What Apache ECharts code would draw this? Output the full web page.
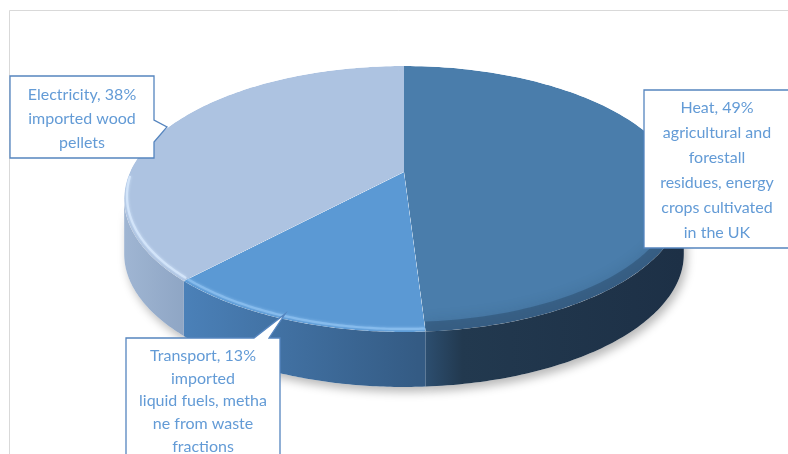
<!DOCTYPE html>
<html><head><meta charset="utf-8">
<script src="https://cdn.jsdelivr.net/npm/echarts@6/dist/echarts.min.js"></script>
<style>html,body{margin:0;padding:0;background:#fff}#c{width:788px;height:454px}</style>
</head><body><div id="c"></div>
<script>
// ---- data ----
const categories = ['Heat', 'Transport', 'Electricity'];
const shares = [49, 13, 38];
const descriptions = [
  'agricultural and\nforestall\nresidues, energy\ncrops cultivated\nin the UK',
  'imported\nliquid fuels, metha\nne from waste\nfractions',
  'imported wood\npellets'
];

// ---- styling / layout ----
const topColors = ['#4a7dab', '#5b99d4', '#adc3e1'];
const wallStops = [
  [[0, '#30557a'], [0.18, '#22394f'], [1, '#1d3046']],
  [[0, '#4b81b9'], [1, '#345b84']],
  [[0, '#a0b6d3'], [1, '#8ea5c4']]
];
const wallRange = [[414, 682], [180, 418], [122, 186]];
const rimColors = ['rgba(22,40,62,0.28)', '#86bbec', '#d2e4f9'];

const CX = 404, CY = 172, A = 274, B = 127.5, PP = 0.203, DEPTH = 55;
const TWO_PI = Math.PI * 2;
function P(phi) {
  const u = Math.sin(phi), v = -Math.cos(phi), w = 1 - PP * v;
  return [CX + A * u / w, CY + B * v / w];
}
const total = shares.reduce((a, b) => a + b, 0);
function angles(i, val) {
  let s = 0;
  for (let k = 0; k < i; k++) s += shares[k];
  return [s / total * TWO_PI, (s + val) / total * TWO_PI];
}
const VIS0 = Math.acos(-PP), VIS1 = TWO_PI - Math.acos(-PP);

function arc(a0, a1, n) {
  const pts = [];
  for (let k = 0; k <= n; k++) pts.push(P(a0 + (a1 - a0) * k / n));
  return pts;
}

function renderWall(params, api) {
  const i = params.dataIndex;
  const [a0, a1] = angles(i, api.value(1));
  const b0 = Math.max(a0, VIS0), b1 = Math.min(a1, VIS1);
  if (b1 <= b0) return { type: 'group', children: [] };
  const topPts = arc(b0, b1, 80);
  const bot = topPts.slice().reverse().map(p => [p[0], p[1] + DEPTH]);
  const pts = topPts.concat(bot);
  const fill = {
    type: 'linear', global: true,
    x: wallRange[i][0], y: 0, x2: wallRange[i][1], y2: 0,
    colorStops: wallStops[i].map(s => ({ offset: s[0], color: s[1] }))
  };
  return {
    type: 'group',
    children: [
      { type: 'polygon', z2: 0, shape: { points: pts },
        style: { fill: '#fff', shadowBlur: 10, shadowColor: 'rgba(0,0,0,0.28)', shadowOffsetX: 3, shadowOffsetY: 5 } },
      { type: 'polygon', z2: 10, shape: { points: pts }, style: { fill: fill } }
    ]
  };
}

function renderTop(params, api) {
  const i = params.dataIndex;
  const [a0, a1] = angles(i, api.value(1));
  const pts = [[CX, CY]].concat(arc(a0, a1, 120));
  const children = [
    { type: 'polygon', z2: 0, shape: { points: pts }, style: { fill: topColors[i] } }
  ];
  const heat = i === 0;
  const b0 = Math.max(a0, VIS0 - (heat ? 0.25 : 0.15)), b1 = Math.min(a1, VIS1 + 0.15);
  if (b1 > b0) {
    const off = heat ? 1 : 3;
    const rim = arc(b0, b1, 80).map(p => [CX + (p[0] - CX) * (heat ? 0.997 : 0.99), p[1] - off]);
    children.push({
      type: 'polyline', z2: 5, shape: { points: rim },
      style: { stroke: rimColors[i], lineWidth: heat ? 18 : 2.2, fill: null,
               shadowBlur: heat ? 14 : 3, shadowColor: heat ? 'rgba(22,40,62,0.5)' : rimColors[i] }
    });
  }
  return { type: 'group', clipPath: { type: 'polygon', shape: { points: pts } }, children };
}

const seriesData = shares.map((v, i) => ({ name: categories[i], value: [i, v] }));

// ---- labels ----
const labelBoxes = [
  { pts: [[644, 90], [800, 90], [800, 248], [644, 248]], tx: 717, ty: 95.5, lh: 25 },
  { pts: [[126, 338], [254, 338], [285, 314], [269, 338], [280, 338], [280, 470], [126, 470]], tx: 203, ty: 344.5, lh: 22.7 },
  { pts: [[10, 76], [154, 76], [154, 120], [167, 127], [154, 142], [154, 158], [10, 158]], tx: 82, ty: 83, lh: 24 }
];
const graphics = [
  { type: 'line', z: 100, shape: { x1: 9.5, y1: 10.5, x2: 788, y2: 10.5 }, style: { stroke: '#d9d9d9', lineWidth: 1 } },
  { type: 'line', z: 100, shape: { x1: 9.5, y1: 10.5, x2: 9.5, y2: 454 }, style: { stroke: '#d9d9d9', lineWidth: 1 } }
];
categories.forEach((c, i) => {
  const b = labelBoxes[i];
  graphics.push({ type: 'polygon', z: 100, shape: { points: b.pts },
    style: { fill: '#fff', stroke: '#5585bf', lineWidth: 1.3 } });
  graphics.push({ type: 'text', z: 101, x: b.tx, y: b.ty,
    style: { text: c + ', ' + shares[i] + '%\n' + descriptions[i], textAlign: 'center', textVerticalAlign: 'top',
             fontFamily: 'Lato', fontSize: 16, fill: '#639bd6', lineHeight: b.lh } });
});

const chart = echarts.init(document.getElementById('c'), null, { renderer: 'canvas' });
chart.setOption({
  animation: false,
  backgroundColor: '#fff',
  series: [
    { type: 'custom', coordinateSystem: 'none', z: 1, renderItem: renderWall, data: seriesData },
    { type: 'custom', coordinateSystem: 'none', z: 2, renderItem: renderTop, data: seriesData }
  ],
  graphic: graphics
});
</script>
</body></html>
